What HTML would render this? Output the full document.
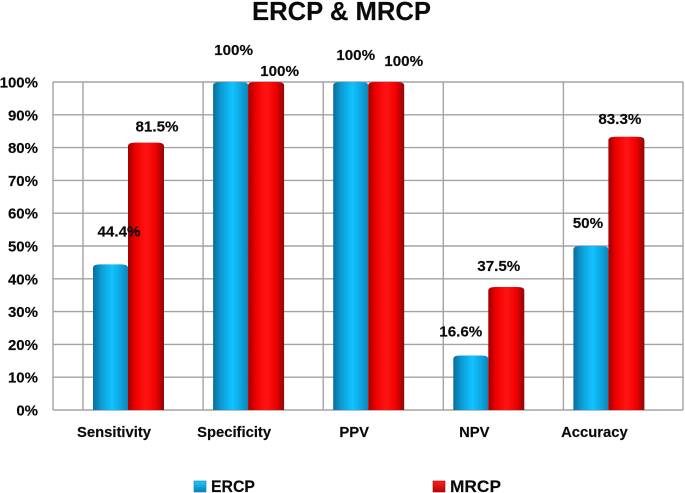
<!DOCTYPE html>
<html lang="en">
<head>
<meta charset="utf-8">
<title>ERCP &amp; MRCP</title>
<style>
html,body{margin:0;padding:0;background:#fff;width:685px;height:493px;overflow:hidden}
svg{display:block}
text{font-family:"Liberation Sans",sans-serif;font-weight:bold;fill:#0a0a0a;stroke:#0a0a0a;stroke-width:.15}
</style>
</head>
<body>
<svg id="chart" xmlns="http://www.w3.org/2000/svg" width="685" height="493" viewBox="0 0 685 493">
  <defs>
    <linearGradient id="blueCyl" x1="0" x2="1" y1="0" y2="0">
      <stop offset="0" stop-color="#0a6d9a"/>
      <stop offset=".25" stop-color="#0c9fd8"/>
      <stop offset=".55" stop-color="#12c2ff"/>
      <stop offset=".8" stop-color="#0ea4de"/>
      <stop offset="1" stop-color="#0b85b8"/>
    </linearGradient>
    <linearGradient id="redCyl" x1="0" x2="1" y1="0" y2="0">
      <stop offset="0" stop-color="#a00000"/>
      <stop offset=".22" stop-color="#f00000"/>
      <stop offset=".5" stop-color="#ff1414"/>
      <stop offset=".78" stop-color="#ee0000"/>
      <stop offset="1" stop-color="#8c0808"/>
    </linearGradient>
    <linearGradient id="blueKey" x1="0" x2="0" y1="0" y2="1">
      <stop offset="0" stop-color="#20c8ff"/>
      <stop offset="1" stop-color="#0a7fb0"/>
    </linearGradient>
    <linearGradient id="redKey" x1="0" x2="0" y1="0" y2="1">
      <stop offset="0" stop-color="#ff2020"/>
      <stop offset="1" stop-color="#b00808"/>
    </linearGradient>
  </defs>
  <text x="341.5" y="20" font-size="26" text-anchor="middle" textLength="179" lengthAdjust="spacingAndGlyphs">ERCP &amp; MRCP</text>
  <g id="grid"></g>
  <g id="bars"></g>
  <g id="yaxis"></g>
  <g id="xaxis"></g>
  <g id="labels"></g>
  <g>
    <g>
      <rect x="194" y="481" width="12" height="11" fill="url(#blueKey)" stroke="#0a7fb0" stroke-width=".6"/>
      <text x="211" y="492" font-size="17" textLength="44" lengthAdjust="spacingAndGlyphs">ERCP</text>
    </g>
    <g>
      <rect x="433" y="481" width="12" height="11" fill="url(#redKey)" stroke="#b00808" stroke-width=".6"/>
      <text x="450" y="492" font-size="17" textLength="51" lengthAdjust="spacingAndGlyphs">MRCP</text>
    </g>
  </g>
</svg>
<script>
const categories = ['Sensitivity', 'Specificity', 'PPV', 'NPV', 'Accuracy'];
const ercpValues = [44.4, 100, 100, 16.6, 50];
const mrcpValues = [81.5, 100, 100, 37.5, 83.3];
const ercpPrinted = ['44.4%', '100%', '100%', '16.6%', '50%'];
const mrcpPrinted = ['81.5%', '100%', '100%', '37.5%', '83.3%'];
const yTicks = [0, 10, 20, 30, 40, 50, 60, 70, 80, 90, 100];

const NS = 'http://www.w3.org/2000/svg';
const plot = {left: 53, right: 683, top: 82, bottom: 410, maxValue: 100};
function yScale(v) { return plot.bottom - (v / plot.maxValue) * (plot.bottom - plot.top); }
function bandStart(i) { return 83 + 120.1 * i; }
function make(parent, tag, attrs, txt) {
  const el = document.createElementNS(NS, tag);
  for (const k in attrs) el.setAttribute(k, attrs[k]);
  if (txt !== undefined) el.textContent = txt;
  parent.appendChild(el);
  return el;
}
const gGrid = document.getElementById('grid');
const gBars = document.getElementById('bars');
const gY = document.getElementById('yaxis');
const gX = document.getElementById('xaxis');
const gL = document.getElementById('labels');

const gridStyle = {stroke: '#a3a3a3', 'stroke-width': 1.4, fill: 'none'};
yTicks.forEach(function (t) {
  const y = yScale(t);
  const line = make(gGrid, 'line', Object.assign({x1: plot.left, x2: plot.right, y1: y, y2: y}, gridStyle));
  
  
  const label = make(gY, 'text', {x: 38, y: y + 5.5, 'font-size': 15, 'text-anchor': 'end'}, t + '%');
  
  
});
[plot.left, plot.right].concat(categories.map(function (c, i) { return bandStart(i); })).forEach(function (x, i) {
  const line = make(gGrid, 'line', Object.assign({x1: x, x2: x, y1: plot.top, y2: plot.bottom}, gridStyle));
  
  
});

function drawBar(x, w, value, fill, name) {
  const top = yScale(value), r = 3.5;
  const d = 'M' + x + ' ' + plot.bottom + 'V' + (top + r) +
    'Q' + x + ' ' + top + ' ' + (x + r * 2) + ' ' + top +
    'H' + (x + w - r * 2) +
    'Q' + (x + w) + ' ' + top + ' ' + (x + w) + ' ' + (top + r) +
    'V' + plot.bottom + 'Z';
  const bar = make(gBars, 'path', {d: d, fill: fill});
  
  
}
categories.forEach(function (c, i) {
  const s = bandStart(i);
  drawBar(s + 10, 35, ercpValues[i], 'url(#blueCyl)', 'bar-ercp-' + c.toLowerCase());
  drawBar(s + 45, 36, mrcpValues[i], 'url(#redCyl)', 'bar-mrcp-' + c.toLowerCase());
});

const catLabelShift = -29;
categories.forEach(function (c, i) {
  const cx = bandStart(i) + 60 + catLabelShift;
  const label = make(gX, 'text', {x: cx, y: 437, 'font-size': 14.8, 'text-anchor': 'middle'}, c);
  
  
});

/* Hand-placed label nudges relative to each bar's centre and top (layout, not data). */
function ercpNudge(i) {
  switch (i) {
    case 0: return [8.5, -28];
    case 1: return [3, -27];
    case 2: return [5, -22];
    case 3: return [-10, -19];
    default: return [-3, -18];
  }
}
function mrcpNudge(i) {
  switch (i) {
    case 0: return [11, -11];
    case 1: return [13.5, -6];
    case 2: return [17.5, -16];
    case 3: return [-7.5, -16];
    default: return [-6.5, -13];
  }
}
categories.forEach(function (c, i) {
  const s = bandStart(i);
  const a = ercpNudge(i), b = mrcpNudge(i);
  const la = make(gL, 'text', {x: s + 27.5 + a[0], y: yScale(ercpValues[i]) + a[1], 'font-size': 15.2, 'text-anchor': 'middle'}, ercpPrinted[i]);
  
  
  const lb = make(gL, 'text', {x: s + 63 + b[0], y: yScale(mrcpValues[i]) + b[1], 'font-size': 15.2, 'text-anchor': 'middle'}, mrcpPrinted[i]);
  
  
});
</script>
</body>
</html>
